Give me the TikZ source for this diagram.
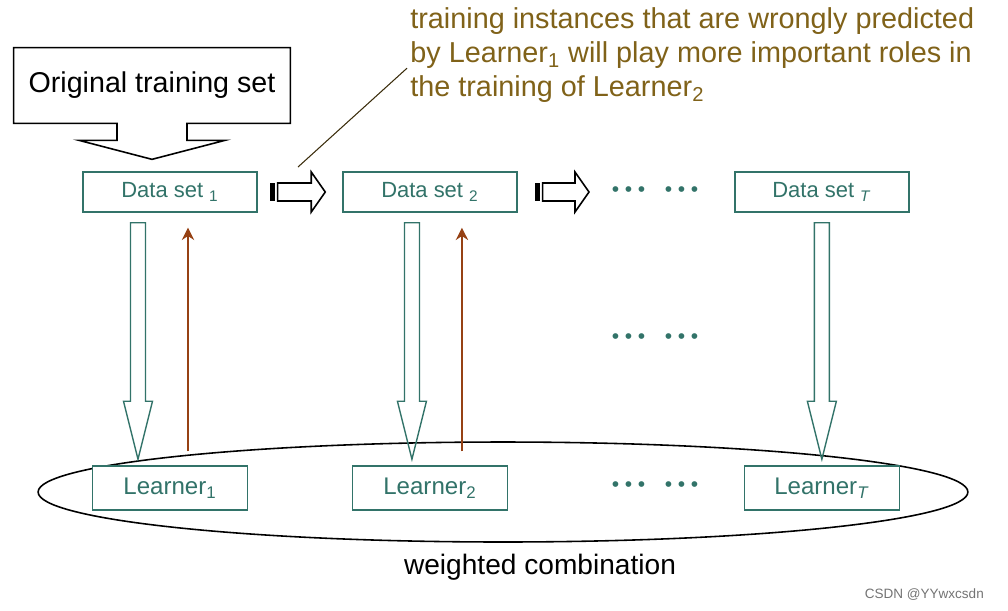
\documentclass[tikz,border=0pt]{standalone}
\usepackage{fontspec}
\setmainfont{Liberation Sans}
\usepackage{xcolor}
\usepackage{tikz}
\usetikzlibrary{positioning, shapes.geometric, arrows.meta}

\definecolor{tealc}{RGB}{50,115,105}
\definecolor{brownc}{RGB}{150,65,20}
\definecolor{olivec}{RGB}{128,98,25}
\newcommand{\dotgroup}{\textbullet\hspace{3.2pt}\textbullet\hspace{3.2pt}\textbullet}

\begin{document}
\begin{tikzpicture}[x=0.02cm, y=-0.02cm, node distance=5.2cm, on grid,
        dbox/.style={draw=tealc, line width=0.8pt, text=tealc, fill=white, minimum width=3.48cm, minimum height=0.8cm, font=\fontsize{12.5}{15}\selectfont},
        lbox/.style={draw=tealc, line width=0.8pt, text=tealc, fill=white, minimum width=3.1cm, minimum height=0.88cm, font=\fontsize{13.7}{16}\selectfont},
        hollow/.style={draw=tealc, line width=0.8pt},
        feedback/.style={draw=brownc, line width=1.1pt, -{Stealth[length=7pt, width=7pt]}},
        striped/.style={draw=black, line width=0.9pt},
        dotsrow/.style={text=tealc, font=\fontsize{12}{12}\selectfont}]
        \useasboundingbox (0,0) rectangle (1008,610);

        \node[ellipse, draw, line width=0.9pt, minimum width=18.6cm, minimum height=2cm] (comb) at (503,492) {};
        \node[font=\fontsize{16}{19}\selectfont] (combtext) at (540,567) {weighted combination};

        \node[minimum width=5.52cm, minimum height=1.5cm, font=\fontsize{16.3}{19}\selectfont] (orig) at (152,85.5) {Original training set};
        \draw[line width=0.9pt] (orig.south west) -- (orig.north west) -- (orig.north east) -- (orig.south east)
            -- ([xshift=0.7cm]orig.south) -- ([xshift=0.7cm, yshift=-0.34cm]orig.south)
            -- ([xshift=1.46cm, yshift=-0.34cm]orig.south) -- ([yshift=-0.72cm]orig.south)
            -- ([xshift=-1.46cm, yshift=-0.34cm]orig.south) -- ([xshift=-0.7cm, yshift=-0.34cm]orig.south)
            -- ([xshift=-0.7cm]orig.south) -- cycle;

        \node[dbox] (ds1) at (170,192) {Data set \textsubscript{1}};
        \node[dbox, right=of ds1] (ds2) {Data set \textsubscript{2}};
        \node[dbox, right=7.84cm of ds2] (dsT) {Data set \textsubscript{\textit{T}}};

        \node[lbox, below=5.92cm of ds1] (l1) {Learner\textsubscript{1}};
        \node[lbox, below=5.92cm of ds2] (l2) {Learner\textsubscript{2}};
        \node[lbox, below=5.92cm of dsT] (lT) {Learner\textsubscript{\textit{T}}};

        \node[dotsrow] (dots1) at (655,192) {\dotgroup\hspace{11.2pt}\dotgroup};
        \node[dotsrow] (dots2) at (655,339) {\dotgroup\hspace{11.2pt}\dotgroup};
        \node[dotsrow] (dots3) at (655,487) {\dotgroup\hspace{11.2pt}\dotgroup};

        \node[anchor=north west, inner sep=0pt, align=left, text=olivec, font=\fontsize{16.4}{19.3}\selectfont] (note) at (410,7.5)
            {training instances that are wrongly predicted\\
             by Learner\textsubscript{1} will play more important roles in\\
             the training of Learner\textsubscript{2}};
        \coordinate (lead) at (298,167);
        \draw[draw=black!55!olivec, line width=0.6pt] (lead) -- ([xshift=-0.06cm, yshift=-0.26cm]note.west);

        % striped arrows between the data sets
        \coordinate (tail1) at ([xshift=0.24cm]ds1.east);
        \coordinate (tip1) at ([xshift=-0.34cm]ds2.west);
        \coordinate (tail2) at ([xshift=0.34cm]ds2.east);
        \coordinate (tip2) at (589,192);
        \foreach \a in {1,2} {
            \fill ([yshift=-0.18cm]tail\a) rectangle ([xshift=0.11cm, yshift=0.18cm]tail\a);
            \draw[striped] ([xshift=0.16cm, yshift=0.18cm]tail\a) -- ([xshift=-0.28cm, yshift=0.18cm]tip\a)
                -- ([xshift=-0.28cm, yshift=0.4cm]tip\a) -- (tip\a) -- ([xshift=-0.28cm, yshift=-0.4cm]tip\a)
                -- ([xshift=-0.28cm, yshift=-0.18cm]tip\a) -- ([xshift=0.16cm, yshift=-0.18cm]tail\a) -- cycle;
        }

        % data set -> learner
        \foreach \s/\l/\dx in {ds1/l1/-0.64, ds2/l2/-0.36, dsT/lT/0} {
            \draw[hollow] ([xshift=\dx cm-0.15cm, yshift=-0.2cm]\s.south) -- ([xshift=\dx cm-0.15cm, yshift=1.28cm]\l.north)
                -- ([xshift=\dx cm-0.29cm, yshift=1.28cm]\l.north) -- ([xshift=\dx cm, yshift=0.12cm]\l.north)
                -- ([xshift=\dx cm+0.29cm, yshift=1.28cm]\l.north) -- ([xshift=\dx cm+0.15cm, yshift=1.28cm]\l.north)
                -- ([xshift=\dx cm+0.15cm, yshift=-0.2cm]\s.south) -- cycle;
        }

        % learner -> data set
        \foreach \s/\l/\dx in {ds1/l1/0.36, ds2/l2/0.64} {
            \draw[feedback] ([xshift=\dx cm, yshift=0.28cm]\l.north) -- ([xshift=\dx cm, yshift=-0.3cm]\s.south);
        }

        \node[text=black!55, font=\fontsize{7.7}{9}\selectfont, anchor=east] (mark) at (990,595) {CSDN @YYwxcsdn};
\end{tikzpicture}
\end{document}
